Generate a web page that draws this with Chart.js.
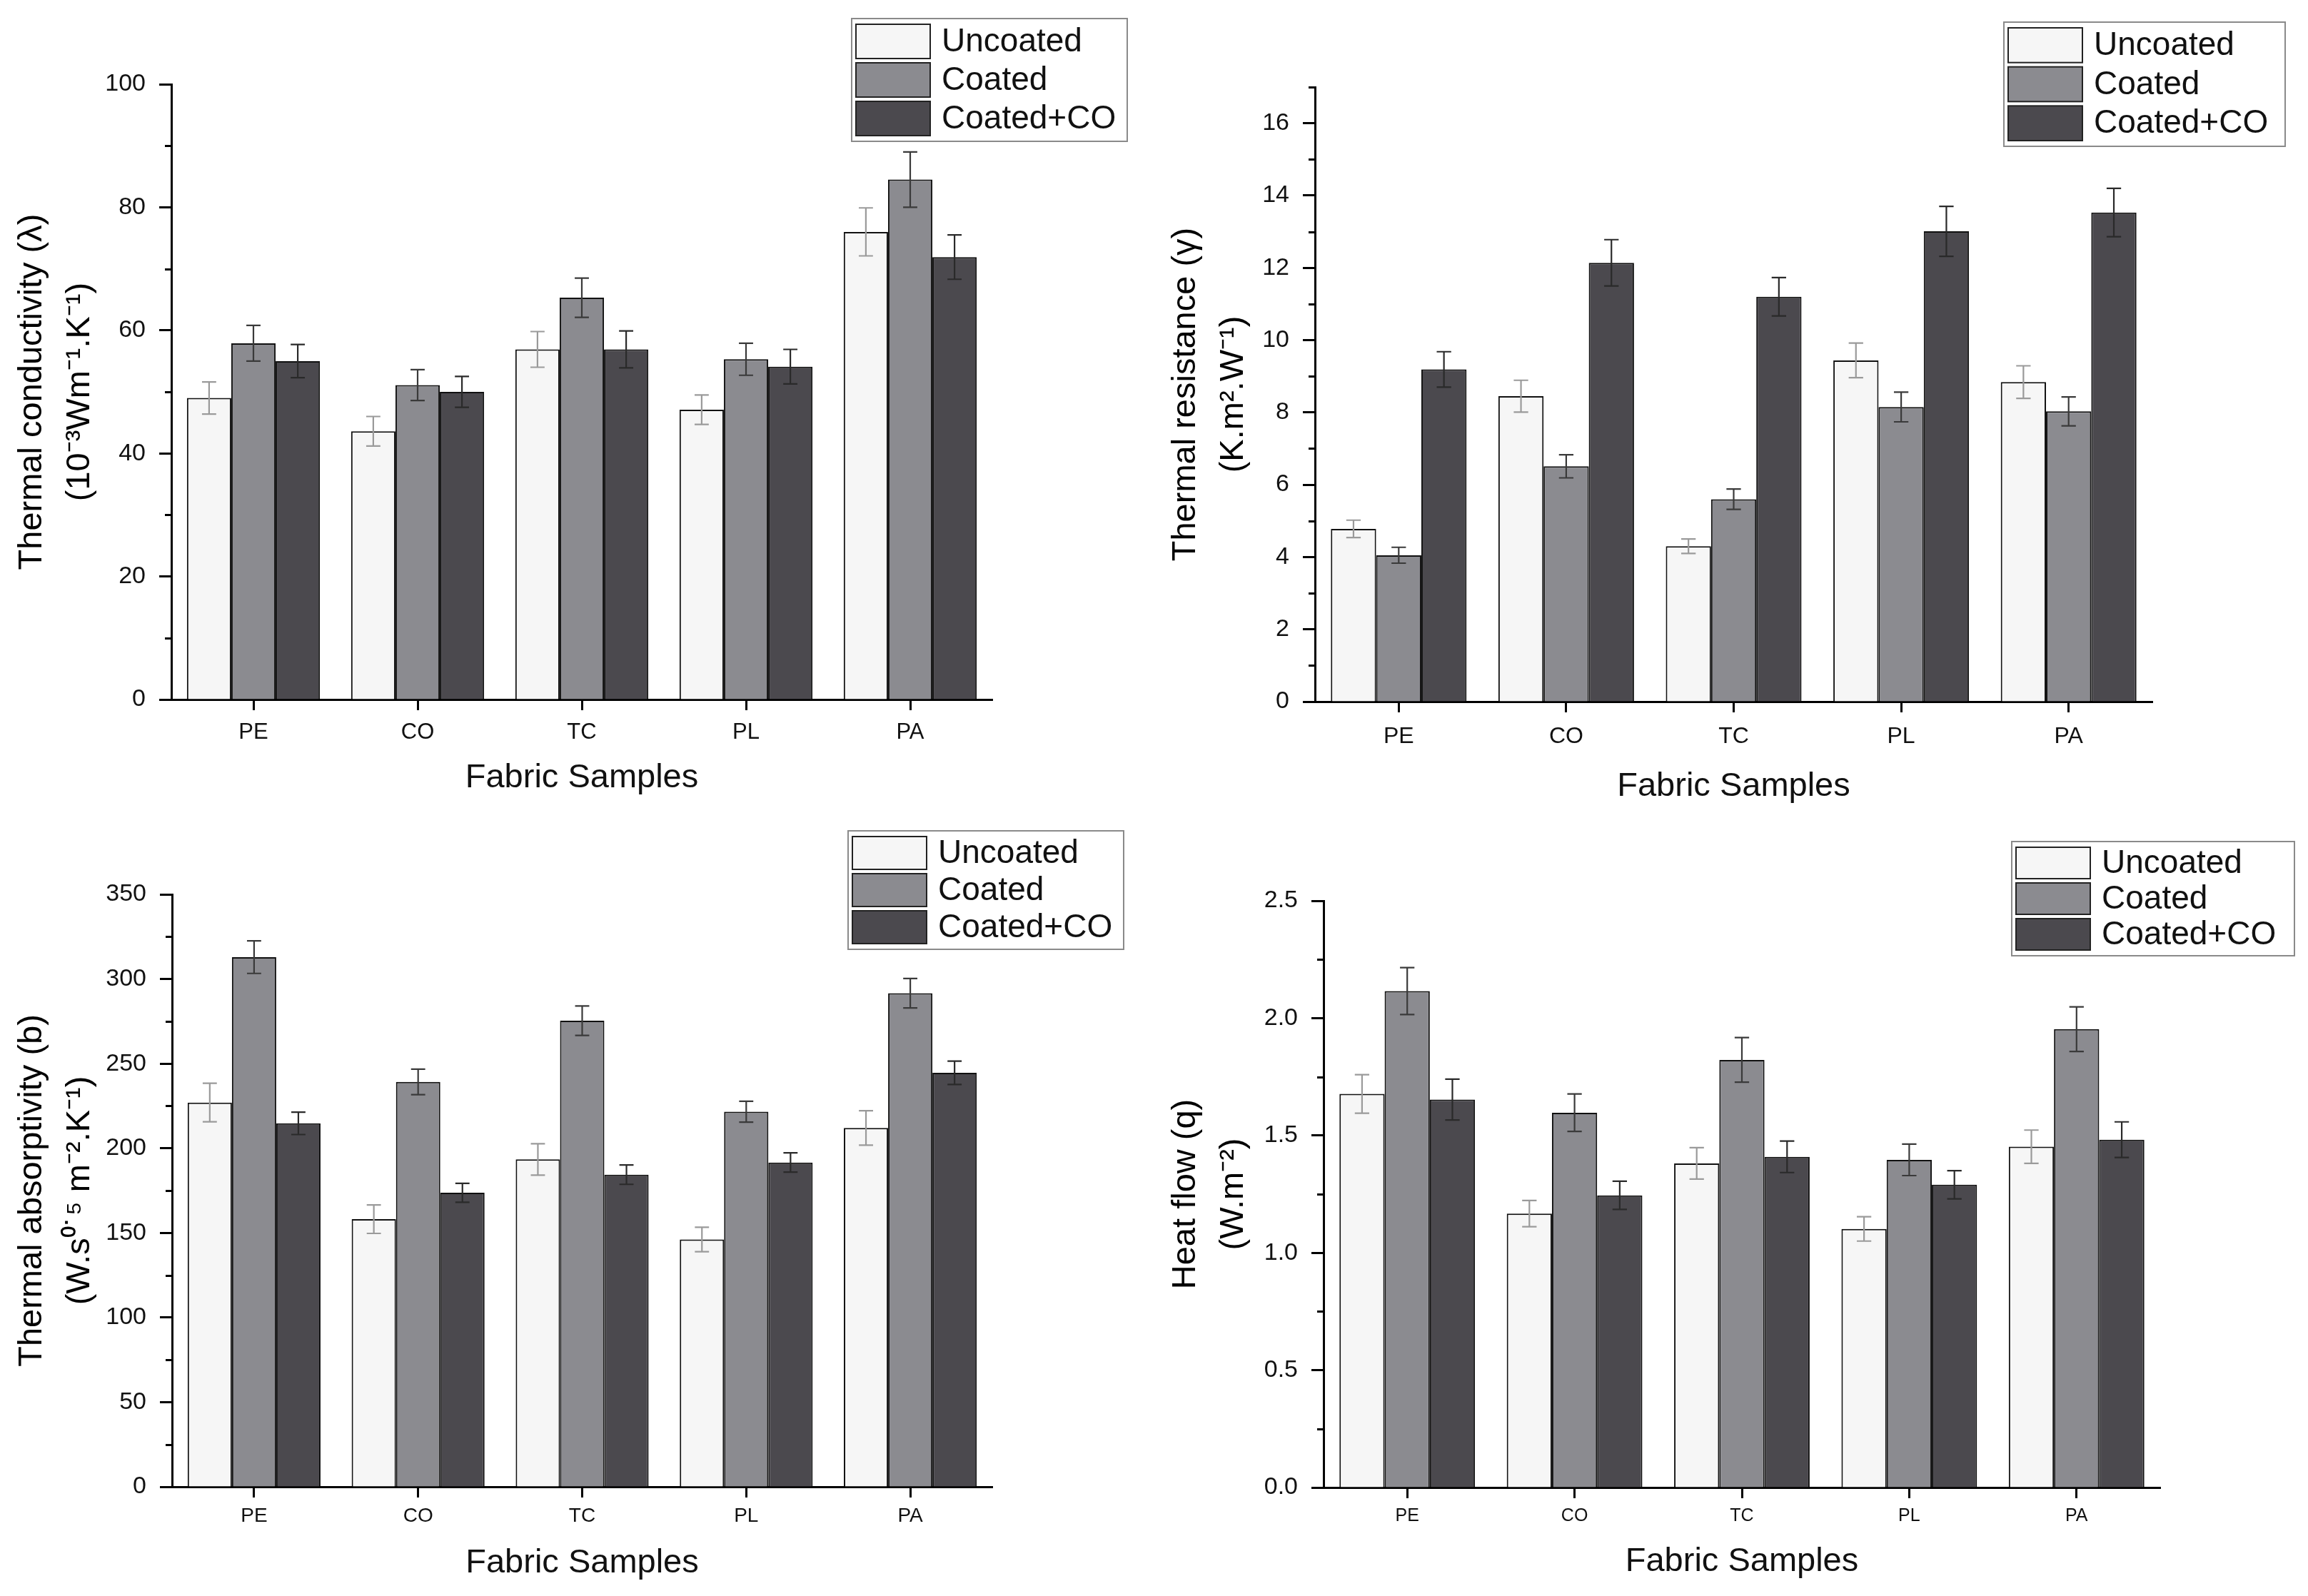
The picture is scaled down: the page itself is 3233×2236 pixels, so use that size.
<!DOCTYPE html>
<html>
<head>
<meta charset="utf-8">
<script src="https://cdn.jsdelivr.net/npm/chart.js@4.4.1/dist/chart.umd.min.js"></script>
<style>
  html, body { margin: 0; padding: 0; background: #fff; }
  body { width: 3233px; height: 2236px; position: relative; overflow: hidden; }
  .panel { position: absolute; }
</style>
</head>
<body>
<div class="panel" style="left:0;top:0;width:1616px;height:1150px"><canvas id="chartConductivity"></canvas></div>
<div class="panel" style="left:1616px;top:0;width:1617px;height:1150px"><canvas id="chartResistance"></canvas></div>
<div class="panel" style="left:0;top:1118px;width:1616px;height:1118px"><canvas id="chartAbsorptivity"></canvas></div>
<div class="panel" style="left:1616px;top:1118px;width:1617px;height:1118px"><canvas id="chartHeatFlow"></canvas></div>
<script>
// categories and series
const samples = ["PE", "CO", "TC", "PL", "PA"];
const seriesNames = ["Uncoated", "Coated", "Coated+CO"];
const seriesColors = ["#f6f6f6", "#8b8b90", "#4b494e"];
const errorColors = ["#9a9a9a", "#3a3a3a", "#2a2a2a"];

// thermal conductivity (10^-3 W/m.K)
const conductivityUncoated = [49.0, 43.6, 56.9, 47.1, 76.0];
const conductivityCoated = [57.9, 51.1, 65.3, 55.3, 84.5];
const conductivityCoatedCO = [55.0, 50.0, 56.9, 54.1, 71.9];
const conductivityErrUncoated = [2.6, 2.4, 2.9, 2.4, 3.9];
const conductivityErrCoated = [2.9, 2.5, 3.2, 2.6, 4.5];
const conductivityErrCoatedCO = [2.7, 2.5, 3.0, 2.8, 3.6];

// thermal resistance (K.m2/W)
const resistanceUncoated = [4.78, 8.45, 4.30, 9.44, 8.84];
const resistanceCoated = [4.05, 6.51, 5.60, 8.15, 8.03];
const resistanceCoatedCO = [9.19, 12.14, 11.20, 13.01, 13.53];
const resistanceErrUncoated = [0.24, 0.44, 0.20, 0.48, 0.45];
const resistanceErrCoated = [0.22, 0.32, 0.28, 0.41, 0.40];
const resistanceErrCoatedCO = [0.49, 0.64, 0.53, 0.69, 0.67];

// thermal absorptivity
const absorptivityUncoated = [227.0, 158.1, 193.4, 146.1, 212.0];
const absorptivityCoated = [312.9, 239.2, 275.4, 221.6, 291.6];
const absorptivityCoatedCO = [214.7, 173.7, 184.4, 191.6, 244.6];
const absorptivityErrUncoated = [11.4, 8.4, 9.3, 7.2, 10.2];
const absorptivityErrCoated = [9.6, 7.5, 8.7, 6.2, 8.7];
const absorptivityErrCoatedCO = [6.6, 5.6, 5.7, 5.7, 6.9];

// heat flow (W/m2)
const heatFlowUncoated = [1.677, 1.167, 1.381, 1.102, 1.452];
const heatFlowCoated = [2.115, 1.597, 1.822, 1.396, 1.953];
const heatFlowCoatedCO = [1.653, 1.245, 1.409, 1.290, 1.482];
const heatFlowErrUncoated = [0.082, 0.056, 0.067, 0.052, 0.071];
const heatFlowErrCoated = [0.100, 0.080, 0.095, 0.067, 0.095];
const heatFlowErrCoatedCO = [0.087, 0.060, 0.067, 0.060, 0.076];

const FONT = "'Liberation Sans', Arial, Helvetica, sans-serif";

// error bars drawn from each dataset's "errors" array
const errorBarsPlugin = {
  id: "errorBars",
  afterDatasetsDraw(chart) {
    const ctx = chart.ctx;
    const yScale = chart.scales.y;
    chart.data.datasets.forEach((ds, i) => {
      const meta = chart.getDatasetMeta(i);
      meta.data.forEach((bar, j) => {
        const v = ds.data[j];
        const e = ds.errors[j];
        const yTop = yScale.getPixelForValue(v + e);
        const yBot = yScale.getPixelForValue(v - e);
        const half = bar.width * 0.16;
        ctx.save();
        ctx.strokeStyle = ds.errorColor;
        ctx.lineWidth = 2.2;
        ctx.beginPath();
        ctx.moveTo(bar.x, yTop);
        ctx.lineTo(bar.x, yBot);
        ctx.moveTo(bar.x - half, yTop);
        ctx.lineTo(bar.x + half, yTop);
        ctx.moveTo(bar.x - half, yBot);
        ctx.lineTo(bar.x + half, yBot);
        ctx.stroke();
        ctx.restore();
      });
    });
  }
};

// short minor ticks on the left axis
const minorTicksPlugin = {
  id: "minorTicks",
  afterDraw(chart, args, opts) {
    if (!opts.step) return;
    const ctx = chart.ctx;
    const yScale = chart.scales.y;
    const x = chart.chartArea.left;
    ctx.save();
    ctx.strokeStyle = "#000";
    ctx.lineWidth = 3;
    ctx.beginPath();
    for (let v = opts.step; v <= yScale.max + 1e-9; v += opts.step * 2) {
      const y = Math.round(yScale.getPixelForValue(v)) + 0.5;
      ctx.moveTo(x - 9, y);
      ctx.lineTo(x, y);
    }
    ctx.stroke();
    ctx.restore();
  }
};

// boxed legend in the upper right corner
const boxLegendPlugin = {
  id: "boxLegend",
  afterDraw(chart, args, opts) {
    const ctx = chart.ctx;
    const { x, y, w, h } = opts;
    const rows = chart.data.datasets.length;
    const pitch = (h - 10) / rows;
    ctx.save();
    ctx.fillStyle = "#fff";
    ctx.fillRect(x, y, w, h);
    ctx.strokeStyle = "#8a8a8a";
    ctx.lineWidth = 2;
    ctx.strokeRect(x, y, w, h);
    chart.data.datasets.forEach((ds, i) => {
      const ry = y + 5 + i * pitch;
      ctx.fillStyle = ds.backgroundColor;
      ctx.fillRect(x + 6, ry + 3, 104, pitch - 6);
      ctx.strokeStyle = "#222";
      ctx.lineWidth = 2;
      ctx.strokeRect(x + 6, ry + 3, 104, pitch - 6);
      ctx.fillStyle = "#111";
      ctx.font = "46px " + FONT;
      ctx.textBaseline = "middle";
      ctx.textAlign = "left";
      ctx.fillText(ds.label, x + 126, ry + pitch / 2 + 1);
    });
    ctx.restore();
  }
};

function crearPanel(canvasId, cfg) {
  const canvas = document.getElementById(canvasId);
  const valores = [cfg.uncoated, cfg.coated, cfg.coatedCO];
  const errores = [cfg.errUncoated, cfg.errCoated, cfg.errCoatedCO];

  return new Chart(canvas, {
    type: "bar",
    data: {
      labels: samples,
      datasets: seriesNames.map((name, i) => ({
        label: name,
        data: valores[i],
        errors: errores[i],
        errorColor: errorColors[i],
        backgroundColor: seriesColors[i],
        borderColor: "#111",
        borderWidth: 2,
        categoryPercentage: 0.81,
        barPercentage: 1.0
      }))
    },
    options: {
      responsive: true,
      maintainAspectRatio: false,
      animation: false,
      devicePixelRatio: 1,
      layout: {
        padding: { left: 0, top: cfg.top, right: cfg.right, bottom: 0 }
      },
      plugins: {
        legend: { display: false },
        tooltip: { enabled: false },
        boxLegend: cfg.legend,
        minorTicks: { step: cfg.minor }
      },
      scales: {
        x: {
          grid: {
            offset: false,
            drawOnChartArea: false,
            tickLength: 15,
            tickWidth: 3,
            color: "#000",
            tickColor: "#000"
          },
          border: { color: "#000", width: 3 },
          ticks: {
            color: "#111",
            padding: cfg.xPad,
            font: { family: FONT, size: cfg.xFont }
          },
          title: {
            display: true,
            text: "Fabric Samples",
            color: "#111",
            font: { family: FONT, size: 47 },
            padding: { top: 0, bottom: cfg.titlePad }
          },
          afterFit(scale) {
            scale.height = cfg.xHeight;
          }
        },
        y: {
          min: 0,
          max: cfg.max,
          grid: {
            drawOnChartArea: false,
            tickLength: 17,
            tickWidth: 3,
            color: "#000",
            tickColor: "#000"
          },
          border: { color: "#000", width: 3 },
          ticks: {
            stepSize: cfg.step,
            color: "#111",
            padding: 19,
            font: { family: FONT, size: 34 },
            callback: (value) => cfg.decimals ? Number(value).toFixed(cfg.decimals) : value
          },
          afterBuildTicks(scale) {
            scale.ticks = scale.ticks.filter((t) => Math.abs(t.value / cfg.step - Math.round(t.value / cfg.step)) < 1e-6);
          },
          title: {
            display: true,
            text: cfg.yTitle,
            color: "#000",
            font: { family: FONT, size: 47, lineHeight: 1.42 },
            padding: { top: 12, bottom: 0 }
          },
          afterFit(scale) {
            scale.width = cfg.yWidth;
          }
        }
      }
    },
    plugins: [errorBarsPlugin, minorTicksPlugin, boxLegendPlugin]
  });
}

crearPanel("chartConductivity", {
  uncoated: conductivityUncoated, coated: conductivityCoated, coatedCO: conductivityCoatedCO,
  errUncoated: conductivityErrUncoated, errCoated: conductivityErrCoated, errCoatedCO: conductivityErrCoatedCO,
  max: 100, step: 20, minor: 10,
  yTitle: ["Thermal conductivity (\u03bb)", "(10\u207b\u00b3Wm\u207b\u00b9.K\u207b\u00b9)"],
  yWidth: 240, top: 118, right: 226, xHeight: 170, xPad: 13, xFont: 31, titlePad: 32,
  legend: { x: 1193, y: 26, w: 386, h: 172 }
});

crearPanel("chartResistance", {
  uncoated: resistanceUncoated, coated: resistanceCoated, coatedCO: resistanceCoatedCO,
  errUncoated: resistanceErrUncoated, errCoated: resistanceErrCoated, errCoatedCO: resistanceErrCoatedCO,
  max: 17, step: 2, minor: 1,
  yTitle: ["Thermal resistance (\u03b3)", "(K.m\u00b2.W\u207b\u00b9)"],
  yWidth: 226, top: 122, right: 218, xHeight: 167, xPad: 15, xFont: 32, titlePad: 20,
  legend: { x: 1191, y: 31, w: 394, h: 174 }
});

crearPanel("chartAbsorptivity", {
  uncoated: absorptivityUncoated, coated: absorptivityCoated, coatedCO: absorptivityCoatedCO,
  errUncoated: absorptivityErrUncoated, errCoated: absorptivityErrCoated, errCoatedCO: absorptivityErrCoatedCO,
  max: 350, step: 50, minor: 25,
  yTitle: ["Thermal absorptivity (b)", "(W.s\u2070\u02d9\u2075 m\u207b\u00b2.K\u207b\u00b9)"],
  yWidth: 241, top: 135, right: 226, xHeight: 153, xPad: 9, xFont: 28, titlePad: 18,
  legend: { x: 1188, y: 46, w: 386, h: 166 }
});

crearPanel("chartHeatFlow", {
  uncoated: heatFlowUncoated, coated: heatFlowCoated, coatedCO: heatFlowCoatedCO,
  errUncoated: heatFlowErrUncoated, errCoated: heatFlowErrCoated, errCoatedCO: heatFlowErrCoatedCO,
  max: 2.5, step: 0.5, minor: 0.25, decimals: 1,
  yTitle: ["Heat flow (q)", "(W.m\u207b\u00b2)"],
  yWidth: 238, top: 144, right: 207, xHeight: 152, xPad: 10, xFont: 25, titlePad: 20,
  legend: { x: 1202, y: 61, w: 396, h: 160 }
});
</script>
</body>
</html>
